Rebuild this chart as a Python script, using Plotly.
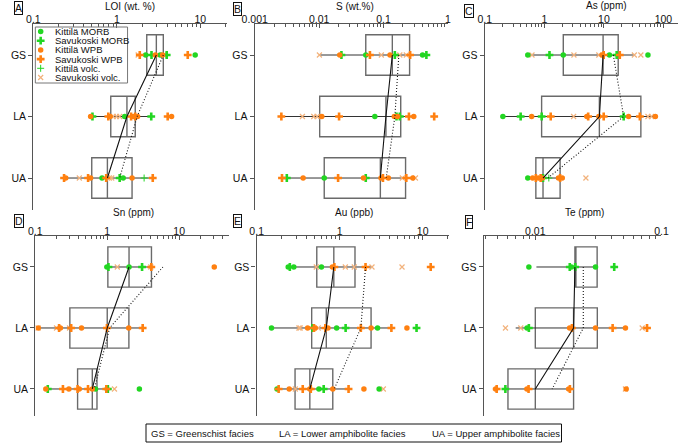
import math
import plotly.graph_objects as go

W, H = 685, 443
FACIES = ["GS", "LA", "UA"]
GROUP_KEYS = ["KM", "SM", "KW", "SW", "KV", "SV"]
GROUP_LABELS = ["Kittilä MORB", "Savukoski MORB", "Kittilä WPB",
                "Savukoski WPB", "Kittilä volc.", "Savukoski volc."]
FOOT_TEXT = ["GS = Greenschist facies", "LA = Lower amphibolite facies",
             "UA = Upper amphibolite facies"]

# ---------------- A: LOI (wt. %) ----------------
LOI_GS = [1.8, 1.88, 2.21, 2.6, 2.89, 3.3, 3.52, 3.65, 3.95, 7.06, 8.67]
LOI_GS_GRP = ["SV", "SW", "KM", "SM", "KW", "KM", "KW", "SV", "SM", "SW", "KM"]
LOI_LA = [0.485, 0.51, 0.79, 0.83, 0.905, 0.99, 1.08, 1.24, 1.48, 1.58, 1.66, 1.77, 2.58, 4.06, 4.52]
LOI_LA_GRP = ["KW", "SM", "SW", "KW", "SV", "SV", "SV", "KM", "SW", "KW", "SW", "KW", "SM", "SW", "KW"]
LOI_UA = [0.233, 0.244, 0.355, 0.452, 0.485, 0.664, 0.745, 0.815, 0.867, 1.08, 1.19, 1.52, 2.12, 2.69]
LOI_UA_GRP = ["SW", "KW", "SV", "SW", "KW", "KM", "SW", "SV", "SV", "SM", "KM", "KW", "KV", "SW"]
LOI_Q1 = [2.28, 0.845, 0.5]
LOI_MED = [2.97, 1.32, 0.77]
LOI_Q3 = [3.6, 1.66, 1.52]
LOI_MIN = [1.8, 0.485, 0.233]
LOI_MAX = [3.95, 2.58, 2.69]
LOI_MEAN = [3.6, 1.75, 1.08]

# ---------------- B: S (wt.%) ----------------
S_GS = [0.0101, 0.0209, 0.0222, 0.053, 0.0615, 0.0925, 0.126, 0.15, 0.179, 0.226, 0.259, 0.404, 0.463]
S_GS_GRP = ["SV", "KW", "SM", "KM", "SW", "SV", "KW", "SM", "SV", "SV", "SW", "KM", "SM"]
S_LA = [0.00259, 0.0055, 0.00826, 0.00929, 0.011, 0.0204, 0.0733, 0.147, 0.159, 0.165, 0.179, 0.248, 0.295, 0.612]
S_LA_GRP = ["SW", "SV", "SV", "SV", "KW", "SW", "KM", "KW", "SM", "KW", "SM", "SW", "KW", "SW"]
S_UA = [0.00265, 0.00315, 0.00564, 0.012, 0.0197, 0.0489, 0.053, 0.0914, 0.098, 0.119, 0.196, 0.226, 0.285, 0.313]
S_UA_GRP = ["SW", "SM", "KW", "KM", "SW", "KW", "SM", "KW", "SW", "KW", "SV", "SW", "KW", "SV"]
S_Q1 = [0.053, 0.0102, 0.012]
S_MED = [0.137, 0.109, 0.0893]
S_Q3 = [0.254, 0.185, 0.22]
S_MIN = [0.0101, 0.00259, 0.00265]
S_MAX = [0.46, 0.3, 0.313]
S_MEAN = [0.173, 0.15, 0.11]

# ---------------- C: As (ppm) ----------------
AS_GS = [0.527, 0.62, 1.22, 2.08, 3.14, 8.23, 9.33, 9.93, 12.4, 16.4, 18.5, 32.5, 41.8, 55]
AS_GS_GRP = ["KM", "SV", "SM", "KM", "SV", "SV", "KW", "SW", "KM", "SM", "SW", "SV", "SV", "KM"]
AS_LA = [0.201, 0.4, 0.612, 0.902, 1.28, 3.1, 5.19, 5.45, 8.23, 9.93, 21.5, 26, 40.2, 55, 63, 73.3]
AS_LA_GRP = ["KM", "SM", "KW", "SM", "SW", "SV", "KW", "SW", "KW", "SW", "SM", "KW", "SW", "SV", "SV", "KW"]
AS_UA = [0.527, 0.635, 0.72, 0.795, 0.868, 0.925, 0.95, 1.19, 1.73, 1.84, 2.0, 4.99]
AS_UA_GRP = ["KM", "KW", "SW", "KW", "SW", "KW", "SM", "KV", "KW", "SW", "KW", "SV"]
AS_Q1 = [2.08, 0.9, 0.72]
AS_MED = [9.7, 8.4, 0.95]
AS_Q3 = [17.4, 41.8, 1.84]
AS_MIN = [0.527, 0.201, 0.527]
AS_MAX = [32.5, 73.3, 2.0]
AS_MEAN = [14.4, 21.5, 1.15]

# ---------------- D: Sn (ppm) ----------------
SN_GS = [0.99, 1.04, 1.38, 2.01, 3.05, 4.04, 4.1, 30.8]
SN_GS_GRP = ["KM", "SM", "SV", "KM", "SM", "SV", "SW", "KW"]
SN_LA = [0.109, 0.11, 0.197, 0.214, 0.223, 0.299, 0.315, 0.439, 0.99, 1.99, 3.11]
SN_LA_GRP = ["SV", "KW", "SV", "SW", "KW", "SV", "SW", "KW", "SW", "KW", "SW"]
SN_UA = [0.14, 0.149, 0.242, 0.293, 0.387, 0.408, 0.54, 0.62, 0.687, 0.97, 1.02, 1.26, 2.8]
SN_UA_GRP = ["KW", "SM", "SW", "KW", "SW", "KW", "SW", "KW", "KM", "SW", "SM", "SV", "KM"]
SN_Q1 = [1.02, 0.302, 0.387]
SN_MED = [2.01, 1.0, 0.62]
SN_Q3 = [4.12, 2.0, 0.72]
SN_MIN = [1.02, 0.109, 0.14]
SN_MAX = [4.12, 3.11, 1.0]
SN_MEAN = [5.94, 1.08, 0.66]

# ---------------- E: Au (ppb) ----------------
AU_GS = [0.24, 0.251, 0.28, 0.523, 0.603, 0.818, 0.863, 1.17, 1.5, 2.05, 2.45, 5.64, 12.5]
AU_GS_GRP = ["KM", "SM", "KM", "SV", "KM", "KW", "SW", "SV", "SV", "SW", "SV", "SV", "SW"]
AU_LA = [0.151, 0.323, 0.334, 0.411, 0.47, 0.491, 0.505, 0.552, 0.672, 0.722, 0.919, 1.18, 1.8, 2.39, 2.86, 4.2, 6.46, 8.44]
AU_LA_GRP = ["KM", "SV", "SV", "KW", "SM", "SW", "KW", "SV", "SW", "KW", "KM", "SM", "SW", "KW", "KM", "SW", "KW", "SM"]
AU_UA = [0.176, 0.184, 0.247, 0.292, 0.359, 0.437, 0.449, 0.562, 0.642, 0.826, 1.28, 1.96, 2.99, 3.36]
AU_UA_GRP = ["KM", "SW", "KW", "SV", "SW", "KW", "SW", "KM", "SM", "KW", "SW", "KW", "KM", "SV"]
AU_Q1 = [0.53, 0.46, 0.29]
AU_MED = [0.85, 0.69, 0.437]
AU_Q3 = [1.53, 2.39, 0.826]
AU_MIN = [0.24, 0.151, 0.176]
AU_MAX = [2.41, 4.2, 1.28]
AU_MEAN = [2.05, 1.8, 0.86]

# ---------------- F: Te (ppm) ----------------
TE_GS = [0.00889, 0.01875, 0.01931, 0.0207, 0.03, 0.0422]
TE_GS_GRP = ["KM", "SM", "KM", "SM", "KM", "SM"]
TE_LA = [0.0058, 0.00767, 0.00859, 0.00889, 0.0187, 0.0195, 0.03, 0.041, 0.0518, 0.0703, 0.0768]
TE_LA_GRP = ["SV", "SV", "KM", "SM", "KW", "SW", "KW", "SW", "KW", "SV", "SW"]
TE_UA = [0.00485, 0.00494, 0.00579, 0.00858, 0.00884, 0.0184, 0.0188, 0.0518, 0.0525]
TE_UA_GRP = ["KW", "SW", "SM", "KW", "SW", "KW", "SW", "SV", "KW"]
TE_Q1 = [0.0206, 0.01, 0.00607]
TE_MED = [0.0206, 0.0201, 0.01]
TE_Q3 = [0.0309, 0.031, 0.0201]
TE_MIN = [0.0102, 0.00699, 0.00607]
TE_MAX = [0.031, 0.0518, 0.0201]
TE_MEAN = [0.024, 0.024, 0.0136]

# ---------------- styling ----------------
GREEN = "#22d622"
ORANGE = "#ff8010"
LIGHT = "#f2b27c"
AXIS_C = "#555555"
BOX_C = "#6a6a6a"
TXT_C = "#111111"
FONT = "Liberation Sans, Arial, sans-serif"

STYLE = {
    "KM": dict(symbol="circle", size=5.5, color=GREEN, line=dict(width=0)),
    "SM": dict(symbol="cross", size=6.5, color=GREEN, line=dict(width=0)),
    "KW": dict(symbol="circle", size=5.5, color=ORANGE, line=dict(width=0)),
    "SW": dict(symbol="cross", size=6.5, color=ORANGE, line=dict(width=0)),
    "KV": dict(symbol="cross-thin", size=5, color=GREEN, line=dict(width=1, color=GREEN)),
    "SV": dict(symbol="x-thin", size=5, color=LIGHT, line=dict(width=1.2, color=LIGHT)),
}
DRAW_ORDER = ["SV", "KV", "KM", "SM", "KW", "SW"]

PANELS = [
    dict(letter="A", title="LOI (wt. %)", vals=[LOI_GS, LOI_LA, LOI_UA],
         grps=[LOI_GS_GRP, LOI_LA_GRP, LOI_UA_GRP], q1=LOI_Q1, med=LOI_MED, q3=LOI_Q3,
         lo=LOI_MIN, hi=LOI_MAX, mean=LOI_MEAN,
         px=(21, 220), py=(24, 210), xr=[-1, 1.314], yr=[2.52, -0.504],
         ticks=[0.1, 1, 10], lab=(1, 1), tpos=(121, 6)),
    dict(letter="B", title="S (wt.%)", vals=[S_GS, S_LA, S_UA],
         grps=[S_GS_GRP, S_LA_GRP, S_UA_GRP], q1=S_Q1, med=S_MED, q3=S_Q3,
         lo=S_MIN, hi=S_MAX, mean=S_MEAN,
         px=(249, 448), py=(24, 210), xr=[-3, 0], yr=[2.52, -0.504],
         ticks=[0.001, 0.01, 0.1, 1], lab=(227, 2), tpos=(352, 6)),
    dict(letter="C", title="As (ppm)", vals=[AS_GS, AS_LA, AS_UA],
         grps=[AS_GS_GRP, AS_LA_GRP, AS_UA_GRP], q1=AS_Q1, med=AS_MED, q3=AS_Q3,
         lo=AS_MIN, hi=AS_MAX, mean=AS_MEAN,
         px=(486, 685), py=(24, 210), xr=[-1, 2.245], yr=[2.52, -0.504],
         ticks=[0.1, 1, 10, 100], lab=(465, 4), tpos=(611, 5)),
    dict(letter="D", title="Sn (ppm)", vals=[SN_GS, SN_LA, SN_UA],
         grps=[SN_GS_GRP, SN_LA_GRP, SN_UA_GRP], q1=SN_Q1, med=SN_MED, q3=SN_Q3,
         lo=SN_MIN, hi=SN_MAX, mean=SN_MEAN,
         px=(23, 223), py=(236, 416), xr=[-1, 1.70], yr=[2.443, -0.508],
         ticks=[0.1, 1, 10], lab=(1, 214), tpos=(124, 213)),
    dict(letter="E", title="Au (ppb)", vals=[AU_GS, AU_LA, AU_UA],
         grps=[AU_GS_GRP, AU_LA_GRP, AU_UA_GRP], q1=AU_Q1, med=AU_MED, q3=AU_Q3,
         lo=AU_MIN, hi=AU_MAX, mean=AU_MEAN,
         px=(251, 449), py=(236, 416), xr=[-1, 1.316], yr=[2.443, -0.508],
         ticks=[0.1, 1, 10], lab=(227, 214), tpos=(351, 213)),
    dict(letter="F", title="Te (ppm)", vals=[TE_GS, TE_LA, TE_UA],
         grps=[TE_GS_GRP, TE_LA_GRP, TE_UA_GRP], q1=TE_Q1, med=TE_MED, q3=TE_Q3,
         lo=TE_MIN, hi=TE_MAX, mean=TE_MEAN,
         px=(485, 668), py=(236, 416), xr=[-2.408, -1], yr=[2.443, -0.508],
         ticks=[0.01, 0.1], lab=(466, 215), tpos=(589, 213)),
]


def fx(p):
    return p / W


def fy(p):
    return 1 - p / H


def minor_vals(xr):
    out = []
    for k in range(math.floor(xr[0]) - 1, math.ceil(xr[1]) + 1):
        for d in range(2, 10):
            v = d * 10 ** k
            if xr[0] <= math.log10(v) <= xr[1]:
                out.append(v)
    return out


fig = go.Figure()
annotations = []
shapes = []
FPOS = list(range(len(FACIES)))

for i, P in enumerate(PANELS, start=1):
    xa = "x" if i == 1 else f"x{i}"
    ya = "y" if i == 1 else f"y{i}"
    # whiskers (min to max)
    for f in FPOS:
        fig.add_trace(go.Scatter(x=[P["lo"][f], P["hi"][f]], y=[f, f], mode="lines",
                                 line=dict(color="#333333", width=1), xaxis=xa, yaxis=ya,
                                 showlegend=False, hoverinfo="skip"))
    # boxes
    fig.add_trace(go.Box(y=FPOS, q1=P["q1"], median=P["med"], q3=P["q3"],
                         lowerfence=P["q1"], upperfence=P["q3"], orientation="h",
                         width=0.66, whiskerwidth=0, fillcolor="rgba(0,0,0,0)",
                         line=dict(color=BOX_C, width=1.4), boxpoints=False,
                         xaxis=xa, yaxis=ya, showlegend=False, hoverinfo="skip"))
    # sample points
    for g in DRAW_ORDER:
        xs, ys = [], []
        for f in FPOS:
            for v, gg in zip(P["vals"][f], P["grps"][f]):
                if gg == g:
                    xs.append(v)
                    ys.append(f)
        if xs:
            fig.add_trace(go.Scatter(x=xs, y=ys, mode="markers", marker=STYLE[g],
                                     xaxis=xa, yaxis=ya, showlegend=False,
                                     name=GROUP_LABELS[GROUP_KEYS.index(g)]))
    # median (solid) and mean (dotted) trend lines
    fig.add_trace(go.Scatter(x=P["med"], y=FPOS, mode="lines",
                             line=dict(color="#111111", width=1.1),
                             xaxis=xa, yaxis=ya, showlegend=False, hoverinfo="skip"))
    fig.add_trace(go.Scatter(x=P["mean"], y=FPOS, mode="lines",
                             line=dict(color="#111111", width=1.1, dash="1px,2px"),
                             xaxis=xa, yaxis=ya, showlegend=False, hoverinfo="skip"))

    x0, x1 = P["px"]
    y0, y1 = P["py"]
    fig.update_layout(**{
        ("xaxis" if i == 1 else f"xaxis{i}"): dict(
            type="log", range=P["xr"], domain=[fx(x0), fx(x1)], side="top",
            anchor=ya, showline=True, linecolor=AXIS_C, linewidth=1.4,
            ticks="inside", ticklen=4, tickcolor=AXIS_C, tickwidth=1,
            tickmode="array", tickvals=P["ticks"], ticktext=[f"{t:g}" for t in P["ticks"]],
            minor=dict(tickmode="array", tickvals=minor_vals(P["xr"]), ticks="inside",
                       ticklen=2.5, tickcolor=AXIS_C, tickwidth=1, showgrid=False),
            showgrid=False, zeroline=False, ticklabelstandoff=-4,
            tickfont=dict(family=FONT, size=10.5, color=TXT_C)),
        ("yaxis" if i == 1 else f"yaxis{i}"): dict(
            range=P["yr"], domain=[fy(y1), fy(y0)], anchor=xa,
            showline=True, linecolor=AXIS_C, linewidth=1.4,
            ticks="outside", ticklen=4, tickcolor=AXIS_C, tickwidth=1,
            tickmode="array", tickvals=FPOS, ticktext=FACIES,
            showgrid=False, zeroline=False,
            tickfont=dict(family=FONT, size=10.5, color=TXT_C)),
    })
    # panel letter
    annotations.append(dict(text=P["letter"], xref="paper", yref="paper",
                            x=fx(P["lab"][0]), y=fy(P["lab"][1]), xanchor="left", yanchor="top",
                            showarrow=False, bordercolor="#111111", borderwidth=1, borderpad=0,
                            font=dict(family=FONT, size=10.5, color=TXT_C)))
    # axis title
    annotations.append(dict(text=P["title"], xref="paper", yref="paper",
                            x=fx(P["tpos"][0]), y=fy(P["tpos"][1]), xanchor="center",
                            yanchor="middle", showarrow=False,
                            font=dict(family=FONT, size=10, color=TXT_C)))

# ---- symbol legend inside panel A (compact, drawn on an overlay axis) ----
LEG_PX = (23, 118)
LEG_PY = (27, 83)
LEG_ROW0, LEG_STEP, LEG_MX, LEG_TX = 4.5, 9.2, 5.5, 18
for k, g in enumerate(GROUP_KEYS):
    fig.add_trace(go.Scatter(x=[LEG_MX], y=[LEG_ROW0 + k * LEG_STEP], mode="markers",
                             marker=STYLE[g], xaxis="x7", yaxis="y7",
                             showlegend=False, hoverinfo="skip"))
    annotations.append(dict(text=GROUP_LABELS[k], xref="x7", yref="y7", x=LEG_TX,
                            y=LEG_ROW0 + k * LEG_STEP, xanchor="left", yanchor="middle",
                            showarrow=False, font=dict(family=FONT, size=9.5, color=TXT_C)))
fig.update_layout(
    xaxis7=dict(domain=[fx(LEG_PX[0]), fx(LEG_PX[1])], range=[0, LEG_PX[1] - LEG_PX[0]],
                visible=False, anchor="y7", fixedrange=True),
    yaxis7=dict(domain=[fy(LEG_PY[1]), fy(LEG_PY[0])], range=[LEG_PY[1] - LEG_PY[0], 0],
                visible=False, anchor="x7", fixedrange=True),
)
shapes.append(dict(type="rect", xref="paper", yref="paper", x0=fx(LEG_PX[0]), x1=fx(LEG_PX[1]),
                   y0=fy(LEG_PY[0]), y1=fy(LEG_PY[1]), line=dict(color="#777777", width=1)))

# ---- facies key at the bottom ----
shapes.append(dict(type="rect", xref="paper", yref="paper", x0=fx(137), x1=fx(565),
                   y0=fy(424), y1=fy(442), line=dict(color="#111111", width=1)))
for txt, xp in zip(FOOT_TEXT, [140, 272, 430]):
    annotations.append(dict(text=txt, xref="paper", yref="paper", x=fx(xp), y=fy(433),
                            xanchor="left", yanchor="middle", showarrow=False,
                            font=dict(family=FONT, size=9.5, color=TXT_C)))

fig.update_layout(width=W, height=H, margin=dict(l=0, r=0, t=0, b=0),
                  paper_bgcolor="white", plot_bgcolor="rgba(0,0,0,0)",
                  showlegend=False, annotations=annotations, shapes=shapes,
                  font=dict(family=FONT, size=10.5, color=TXT_C))

fig.write_html("out.html", config={"displayModeBar": False},
               post_script="document.body.style.margin='0';document.body.style.overflow='hidden';")
